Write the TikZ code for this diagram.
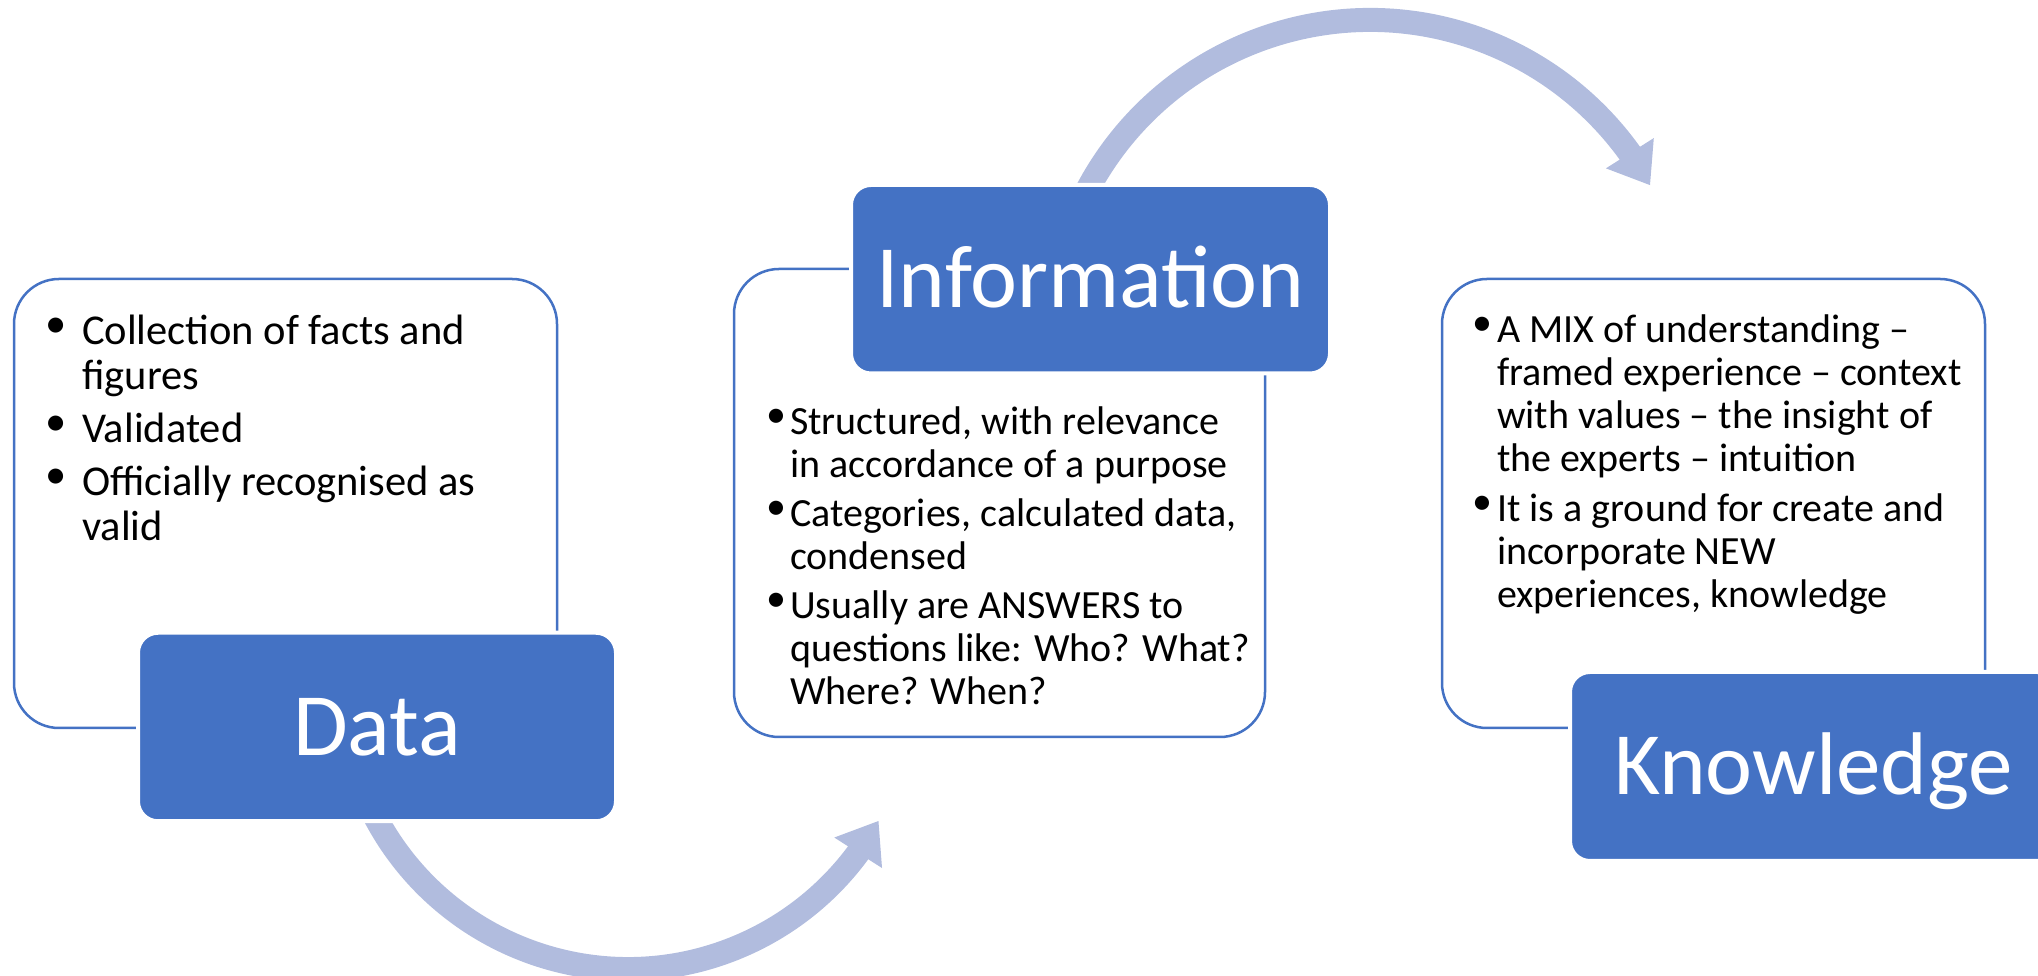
\documentclass[tikz,border=0pt]{standalone}
\usepackage{fontspec}
\setmainfont{Carlito}
\usetikzlibrary{arrows.meta,bending}
\definecolor{boxblue}{RGB}{68,114,196}
\definecolor{flowblue}{RGB}{177,188,222}
\newlength{\bind}
\newcommand{\bul}{\raisebox{0.18em}{\textbullet}}
\newcommand{\bitem}[1]{\par\hangindent=\bind\hangafter=1\noindent\makebox[\bind][l]{\bul}#1\par}

\begin{document}
\begin{tikzpicture}[x=1pt,y=1pt]
        %
        % `card' is the white box that holds the bullet points.
        % `titlebox' is the blue box with the big word on it.
        % `flowarrow' is used for the two curved arrows.
        \tikzstyle{card} = [draw=boxblue,fill=white,line width=2.5pt,rounded corners=45pt,inner sep=0pt]
        \tikzstyle{titlebox} = [draw=white,fill=boxblue,line width=4pt,rounded corners=20pt,inner sep=0pt,text=white,font=\fontsize{89}{92}\selectfont,text height=57pt,text depth=0pt]
        \tikzstyle{bulletlist} = [anchor=base west,inner sep=0pt,align=left]
        \tikzstyle{flowarrow} = [flowblue,line width=24pt,-{Triangle[length=38pt,width=54pt]}]
        %
        \useasboundingbox (0,0) rectangle (2038,976);
        \clip (0,0) rectangle (2038,976);
        %
        % Arrows (tails go under the blue boxes)
        \path (628,293) ++(205:286) coordinate (d2i);
        \draw[flowarrow] (d2i) arc[start angle=205,end angle=331.2,radius=286];
        \path (1370,636) ++(155:320) coordinate (i2k);
        \draw[flowarrow] (i2k) arc[start angle=155,end angle=28.9,radius=320];
        %
        % Data
        \node[card,minimum width=543pt,minimum height=449pt] (datacard) at (285.5,472.5) {};
        \node[bulletlist] (datatext) at (45,631) {\parbox[t]{600pt}{\fontsize{42.5}{45}\selectfont
            \setlength{\parskip}{8pt}\setlength{\bind}{37pt}\rightskip=0pt plus 1fil
            \bitem{Collection of facts and\\figures}
            \bitem{Validated}
            \bitem{Officially recognised as\\valid}}};
        \node[titlebox,minimum width=478pt,minimum height=188.5pt] (data) at (377,249) {Data};
        %
        % Information
        \node[card,minimum width=531pt,minimum height=468pt] (infocard) at (999.5,473) {};
        \node[bulletlist] (infotext) at (766,541) {\parbox[t]{600pt}{\fontsize{40}{43}\selectfont
            \setlength{\parskip}{6pt}\setlength{\bind}{24pt}\rightskip=0pt plus 1fil
            \bitem{Structured, with relevance\\in accordance of a purpose}
            \bitem{Categories, calculated data,\\condensed}
            \bitem{Usually are ANSWERS to\\questions like: Who? What?\\Where? When?}}};
        \node[titlebox,minimum width=479pt,minimum height=188.5pt] (info) at (1090.5,696.75) {Information};
        %
        % Knowledge
        \node[card,minimum width=543pt,minimum height=449pt] (knowcard) at (1713.5,472.5) {};
        \node[bulletlist] (knowtext) at (1472,633) {\parbox[t]{600pt}{\fontsize{40}{43}\selectfont
            \setlength{\parskip}{6.5pt}\setlength{\bind}{25pt}\rightskip=0pt plus 1fil
            \bitem{A MIX of understanding –\\framed experience – context\\with values – the insight of\\the experts – intuition}
            \bitem{It is a ground for create and\\incorporate NEW\\experiences, knowledge}}};
        \node[titlebox,minimum width=487pt,minimum height=189pt] (know) at (1813.5,209.5) {Knowledge};
        %
\end{tikzpicture}
\end{document}
